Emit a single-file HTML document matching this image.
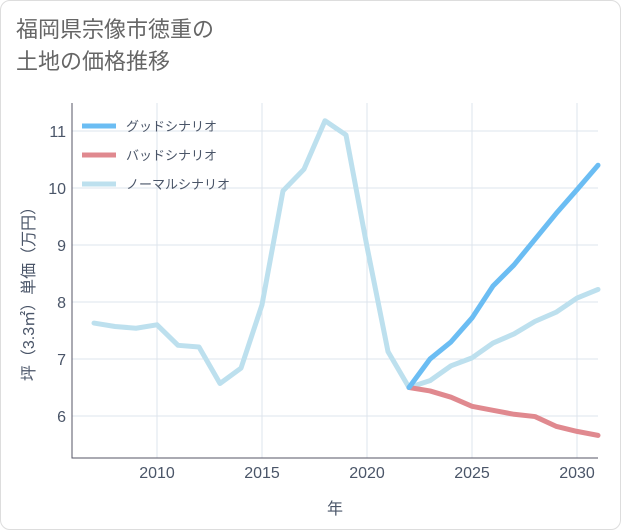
<!DOCTYPE html>
<html><head><meta charset="utf-8"><style>
body{margin:0;background:#fff;font-family:"Liberation Sans","Noto Sans CJK JP",sans-serif;}
#card{position:absolute;left:0;top:0;width:619px;height:528px;border:1px solid #ddd;border-radius:10px;background:#fff;}
#title{position:absolute;left:16px;top:14px;font-size:22px;line-height:32px;color:#666;}
</style></head><body>
<div id="card"></div>
<div id="title">福岡県宗像市徳重の<br>土地の価格推移</div>
<svg id="chart" width="621" height="530" style="position:absolute;left:0;top:0"></svg>
<script>
const years=[2007,2008,2009,2010,2011,2012,2013,2014,2015,2016,2017,2018,2019,2020,2021,2022,2023,2024,2025,2026,2027,2028,2029,2030,2031];
const normal=[7.63,7.57,7.54,7.6,7.24,7.21,6.57,6.84,7.95,9.95,10.33,11.18,10.93,8.97,7.13,6.5,6.62,6.88,7.02,7.28,7.44,7.66,7.82,8.07,8.22];
const futureYears=[2022,2023,2024,2025,2026,2027,2028,2029,2030,2031];
const good=[6.5,7.0,7.3,7.72,8.28,8.65,9.1,9.55,9.97,10.4];
const bad=[6.5,6.44,6.33,6.17,6.1,6.03,5.99,5.82,5.73,5.66];
const xTicks=[2010,2015,2020,2025,2030];
const yTicks=[6,7,8,9,10,11];
const L=72,R=598,T=103,B=458;
const x=v=>157+(v-2010)*21;
const y=v=>416-(v-6)*57;
const svg=document.getElementById('chart');
const NS='http://www.w3.org/2000/svg';
function mk(t,a){const e=document.createElementNS(NS,t);for(const k in a)e.setAttribute(k,a[k]);svg.appendChild(e);return e;}
xTicks.forEach(t=>{const l=mk('line',{x1:x(t),x2:x(t),y1:T,y2:B,stroke:'#dde4ec'});


const tx=mk('text',{x:x(t),y:B+20,'text-anchor':'middle','font-size':16,fill:'#4a5568'});tx.textContent=t;

});
yTicks.forEach(t=>{const l=mk('line',{x1:L,x2:R,y1:y(t),y2:y(t),stroke:'#dde4ec'});


const tx=mk('text',{x:L-6,y:y(t)+6,'text-anchor':'end','font-size':16,fill:'#4a5568'});tx.textContent=t;

});
const ax=mk('path',{d:`M${L} ${T}V${B}H${R}`,stroke:'#556',fill:'none'});


function line(xs,ys,c,n){const p=mk('polyline',{points:xs.map((v,i)=>x(v)+','+y(ys[i])).join(' '),fill:'none',stroke:c,'stroke-width':5,'stroke-linejoin':'round','stroke-linecap':'round'});

}
line(years,normal,'#bde0ee','normal-series');
line(futureYears,bad,'#e0898f','bad-series');
line(futureYears,good,'#6bbdf3','good-series');
[['グッドシナリオ','#6bbdf3'],['バッドシナリオ','#e0898f'],['ノーマルシナリオ','#bde0ee']].forEach((e,i)=>{
const l=mk('line',{x1:82,x2:116,y1:126+i*29,y2:126+i*29,stroke:e[1],'stroke-width':5});


const t=mk('text',{x:126,y:131+i*29,'font-size':13,fill:'#4a5568'});t.textContent=e[0];

});
const xt=mk('text',{x:335,y:514,'text-anchor':'middle','font-size':16,fill:'#4a5568'});xt.textContent='年';


const yt=mk('text',{x:0,y:0,'text-anchor':'middle','font-size':16,fill:'#4a5568',transform:'translate(34,290) rotate(-90)'});yt.textContent='坪（3.3㎡）単価（万円）';


</script>
</body></html>
